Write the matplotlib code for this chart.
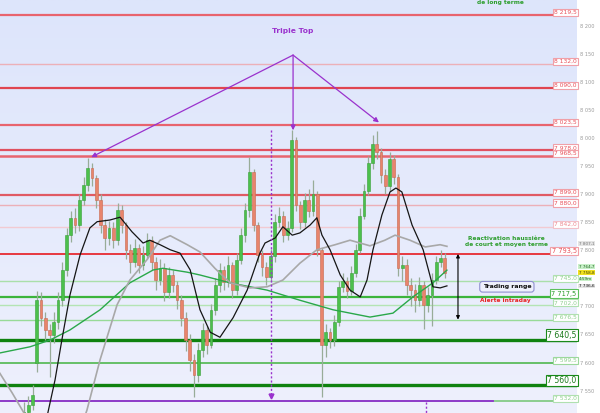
import matplotlib
matplotlib.use("Agg")
import matplotlib.pyplot as plt
import numpy as np

# daily candles (index 0 = first visible candle)
opens = [7505, 7512, 7524, 7600, 7712, 7680, 7658, 7649, 7672, 7712,
         7765, 7827, 7858, 7845, 7890, 7916, 7947, 7929, 7890, 7845,
         7822, 7840, 7818, 7872, 7845, 7801, 7779, 7804, 7774, 7792,
         7818, 7779, 7747, 7769, 7726, 7756, 7738, 7711, 7680, 7640,
         7605, 7578, 7622, 7658, 7631, 7694, 7738, 7765, 7743, 7774,
         7729, 7783, 7827, 7872, 7940, 7845, 7792, 7770, 7752, 7790,
         7850, 7862, 7828, 7840, 7997, 7880, 7850, 7890, 7870, 7900,
         7800, 7631, 7655, 7640, 7672, 7735, 7745, 7728, 7760, 7800,
         7862, 7905, 7955, 7990, 7975, 7935, 7915, 7962, 7930, 7768,
         7774, 7738, 7729, 7711, 7738, 7703, 7720, 7747, 7779, 7786]
closes = [7512, 7524, 7542, 7712, 7680, 7658, 7649, 7672, 7712, 7765,
          7827, 7858, 7845, 7890, 7916, 7947, 7929, 7890, 7845, 7822,
          7840, 7818, 7872, 7845, 7801, 7779, 7804, 7774, 7792, 7818,
          7779, 7747, 7769, 7726, 7756, 7738, 7711, 7680, 7640, 7605,
          7578, 7622, 7658, 7631, 7694, 7738, 7765, 7743, 7774, 7729,
          7783, 7827, 7872, 7940, 7845, 7792, 7770, 7752, 7790, 7850,
          7862, 7828, 7840, 7997, 7880, 7850, 7890, 7870, 7900, 7800,
          7631, 7655, 7640, 7672, 7735, 7745, 7728, 7760, 7800, 7862,
          7905, 7955, 7990, 7975, 7935, 7915, 7962, 7930, 7768, 7774,
          7738, 7729, 7711, 7738, 7703, 7720, 7747, 7779, 7786, 7759]
highs = [7530, 7540, 7560, 7728, 7725, 7690, 7668, 7690, 7725, 7780,
         7840, 7870, 7875, 7900, 7930, 7965, 7955, 7935, 7900, 7855,
         7852, 7850, 7885, 7880, 7850, 7812, 7820, 7812, 7808, 7830,
         7826, 7788, 7785, 7778, 7770, 7765, 7745, 7720, 7690, 7650,
         7615, 7635, 7670, 7665, 7705, 7750, 7778, 7772, 7790, 7780,
         7795, 7840, 7885, 7966, 7945, 7850, 7800, 7780, 7802, 7865,
         7878, 7870, 7852, 8015, 8002, 7888, 7902, 7910, 7925, 7905,
         7805, 7668, 7662, 7685, 7745, 7760, 7752, 7772, 7812, 7875,
         7918, 7968, 8005, 8012, 7982, 7945, 7975, 7970, 7936, 7790,
         7785, 7750, 7740, 7752, 7745, 7735, 7760, 7790, 7800, 7795]
lows = [7495, 7500, 7515, 7583, 7665, 7640, 7575, 7635, 7660, 7700,
        7755, 7815, 7830, 7835, 7880, 7905, 7915, 7875, 7830, 7800,
        7810, 7805, 7810, 7830, 7785, 7760, 7770, 7760, 7765, 7785,
        7765, 7730, 7738, 7710, 7715, 7725, 7695, 7665, 7620, 7585,
        7539, 7565, 7610, 7615, 7625, 7685, 7725, 7730, 7735, 7715,
        7720, 7775, 7815, 7860, 7835, 7780, 7755, 7738, 7745, 7780,
        7842, 7815, 7818, 7832, 7870, 7838, 7842, 7860, 7862, 7790,
        7539, 7610, 7625, 7630, 7665, 7725, 7715, 7720, 7752, 7795,
        7855, 7898, 7945, 7962, 7920, 7900, 7905, 7918, 7755, 7745,
        7720, 7700, 7690, 7700, 7660, 7690, 7665, 7740, 7770, 7750]

# moving averages (x in candle index units)
ma_short_x = [1.0, 5.6, 7.3, 8.9, 10.8, 13.2, 15.5, 17.2, 20.2, 22.6, 25.4, 28.0, 29.6,
              32.0, 34.4, 36.7, 39.1, 41.4, 43.8, 46.1, 49.2, 52.5, 55.5, 56.7, 59.1,
              60.9, 63.1, 64.9, 67.3, 68.9, 70.1, 72.0, 74.4, 76.7, 79.1, 80.7, 82.1,
              84.2, 86.1, 87.5, 88.9, 91.3, 93.9, 96.2, 97.9, 99.5]
ma_short = [7395, 7510, 7569, 7640, 7720, 7792, 7840, 7851, 7854, 7859, 7833, 7813, 7818,
            7810, 7801, 7795, 7765, 7694, 7654, 7645, 7680, 7729, 7795, 7813, 7822,
            7842, 7827, 7831, 7845, 7858, 7827, 7801, 7756, 7729, 7717, 7747, 7801,
            7863, 7904, 7911, 7904, 7845, 7801, 7735, 7733, 7736.6]
ma_mid_x = [-5.7, -2.8, 0.0, 3.8, 7.3, 10.8, 13.2, 14.8, 17.9, 21.9, 24.9, 28.9, 32.0,
            34.4, 38.4, 41.4, 44.9, 48.5, 53.2, 57.2, 60.9, 64.9, 68.9, 73.2, 76.7,
            81.4, 84.9, 87.3, 90.8, 94.4, 97.9, 99.5]
ma_mid = [7581, 7546, 7510, 7426, 7391, 7426, 7480, 7515, 7605, 7703, 7747, 7783, 7818,
          7826, 7810, 7797, 7768, 7742, 7733, 7735, 7747, 7777, 7801, 7810, 7818,
          7808, 7818, 7827, 7818, 7806, 7810, 7807.1]
ma_long_x = [-5.7, 1.4, 6.1, 10.8, 17.9, 24.9, 30.4, 32.7, 38.4, 41.4, 48.5, 57.2,
             64.9, 72.7, 81.4, 86.8, 91.5, 96.2, 99.5]
ma_long = [7617, 7628, 7640, 7658, 7694, 7742, 7765, 7768, 7761, 7756, 7742, 7729,
           7711, 7694, 7681, 7688, 7717, 7742, 7764.7]

# horizontal levels
resistances = [8219.5, 8132.0, 8090.0, 8023.5, 7978.0, 7968.5, 7899.0, 7880.0, 7842.0, 7793.5]
supports = [7745.0, 7717.5, 7702.0, 7676.5, 7640.5, 7599.5, 7560.0, 7532.0]

# right axis ticks (7 750 is hidden behind the price tags)
yticks = [7550, 7600, 7650, 7700, 7800, 7850, 7900, 7950, 8000, 8050, 8100, 8150, 8200]

# style per level: (line colour, line width, text colour, box edge, font size)
level_style = {
    8219.5: ('#e8646e', 1.6, '#e8505a', '#f0a0a8', 4.3),
    8132.0: ('#ecb0b8', 1.0, '#e8505a', '#f0a0a8', 4.3),
    8090.0: ('#e04550', 1.6, '#e8505a', '#f0a0a8', 4.3),
    8023.5: ('#e8646e', 1.6, '#e8505a', '#f0a0a8', 4.3),
    7978.0: ('#e05060', 1.6, '#e8505a', '#f0a0a8', 4.3),
    7968.5: ('#e8646e', 1.8, '#e8505a', '#f0a0a8', 4.3),
    7899.0: ('#e05a64', 1.6, '#e8505a', '#f0a0a8', 4.3),
    7880.0: ('#ecb0b8', 1.0, '#e8505a', '#f0a0a8', 4.3),
    7842.0: ('#f2cad2', 1.0, '#ec8890', '#f2c0c8', 4.3),
    7793.5: ('#e82a32', 1.3, '#e8505a', '#f0a0a8', 4.8),
    7745.0: ('#aadfaa', 1.0, '#90d090', '#b0e0b0', 4.3),
    7717.5: ('#3cb43c', 1.6, '#2e9e2e', '#5cc05c', 4.8),
    7702.0: ('#b4e4b4', 1.0, '#90d090', '#b0e0b0', 4.3),
    7676.5: ('#98da98', 1.0, '#90d090', '#b0e0b0', 4.3),
    7640.5: ('#0f820f', 2.4, '#1a7a1a', '#1a8a1a', 5.6),
    7599.5: ('#5cbc5c', 1.3, '#90d090', '#9cd89c', 4.3),
    7560.0: ('#0f820f', 2.4, '#1a7a1a', '#1a8a1a', 5.6),
    7532.0: ('#7cc87c', 1.2, '#90d090', '#b0e0b0', 4.3),
}

# price tags in the right margin: (value shown, where it sits, face colour, text colour)
tags = [('7 807,1', 7812, '#e4e4e4', '#777777'),
        ('7 764,7', 7771, '#c8f0c8', '#226622'),
        ('7 758,8', 7760, '#f0e020', '#444400'),
        ('4:59m', 7749, '#c8f0c8', '#226622'),
        ('7 736,6', 7736.6, '#e4e4e4', '#111111')]


def fr(v):
    return f"{v:,.1f}".replace(",", " ").replace(".", ",")


fig = plt.figure(figsize=(6, 4.13), dpi=100)
ax = fig.add_axes([0, 0, 577 / 600, 1])
xmin, xmax = -5.65, 130.1
ymin, ymax = 7510.0, 8246.2

# background gradient
grad = np.linspace(0, 1, 256).reshape(-1, 1)
cmap = matplotlib.colors.LinearSegmentedColormap.from_list('bg', ['#eef0fd', '#dde5fb'])
ax.imshow(grad, extent=[xmin, xmax, ymax, ymin], aspect='auto', cmap=cmap, zorder=0)

# levels
for lv in resistances + supports:
    col, lw, tcol, ecol, fs = level_style[lv]
    ax.axhline(lv, color=col, lw=lw, zorder=2)
    ax.text(0.9995, lv, fr(lv), transform=ax.get_yaxis_transform(), ha='right', va='bottom',
            fontsize=fs, color=tcol, zorder=6,
            bbox=dict(boxstyle='square,pad=0.18', fc='white', ec=ecol, lw=0.8))
# purple segment over the lowest support
ax.axhline(7532.0, xmin=0, xmax=493 / 577, color='#9030d0', lw=1.3, zorder=3)

# candles
x = np.arange(len(closes))
o = np.array(opens, float)
c = np.array(closes, float)
up = c >= o
ax.vlines(x, lows, highs, color='#98ac98', lw=0.9, zorder=3)
ax.bar(x[up], (c - o)[up], bottom=o[up], width=0.62, color='#4cc04c', edgecolor='#3aa03a', lw=0.4, zorder=4)
ax.bar(x[~up], (c - o)[~up], bottom=o[~up], width=0.62, color='#e8846c', edgecolor='#c86a50', lw=0.4, zorder=4)

# moving averages
ax.plot(ma_long_x, ma_long, color='#2aa84a', lw=1.0, zorder=5)
ax.plot(ma_mid_x, ma_mid, color='#a8a8a8', lw=1.2, zorder=5)
ax.plot(ma_short_x, ma_short, color='#151515', lw=0.9, zorder=5)

# triple top annotation
purple = '#9a32cd'
ax.text(63.3, 8191, 'Triple Top', color=purple, fontsize=5.4, fontweight='bold', ha='center', va='center')
for tx, ty in [(15.8, 7966), (63.3, 8014), (83.5, 8028)]:
    ax.annotate('', xy=(tx, ty), xytext=(63.3, 8148),
                arrowprops=dict(arrowstyle='-|>', color=purple, lw=0.9, mutation_scale=7,
                                shrinkA=0, shrinkB=0))

# dotted verticals
ax.plot([58.1, 58.1], [8014, 7542], ls=(0, (1.5, 1.5)), color=purple, lw=1.0, zorder=6)
ax.plot([58.1], [7540], marker='v', color=purple, ms=3.5, zorder=6)
ax.plot([94.6, 94.6], [7529, 7500], ls=(0, (1.5, 1.5)), color=purple, lw=1.0, zorder=6)

# trading range arrow and comments
ax.annotate('', xy=(102.1, 7793.5), xytext=(102.1, 7676.5),
            arrowprops=dict(arrowstyle='<|-|>', color='black', lw=0.8, mutation_scale=5,
                            shrinkA=0, shrinkB=0), zorder=7)
ax.text(112.0, 8242, 'de long terme', color='#2e9e2e', fontsize=4.2, fontweight='bold',
        ha='center', va='center')
ax.text(113.6, 7815, 'Reactivation haussière\nde court et moyen terme', color='#2e9e2e',
        fontsize=4.2, fontweight='bold', ha='center', va='center', linespacing=1.3)
ax.text(113.6, 7735, 'Trading range', color='#111111', fontsize=4.5, fontweight='bold',
        ha='center', va='center',
        bbox=dict(boxstyle='round,pad=0.45', fc='#eef0fb', ec='#9090d0', lw=0.8))
ax.text(113.2, 7710, 'Alerte intraday', color='#e82020', fontsize=4.2, fontweight='bold',
        ha='center', va='center')

# axis setup
ax.set_xlim(xmin, xmax)
ax.set_ylim(ymin, ymax)
ax.yaxis.tick_right()
ax.set_yticks(yticks)
ax.set_yticklabels([f"{t:,}".replace(",", " ") for t in yticks])
ax.tick_params(axis='y', length=0, pad=2.5, labelsize=3.6, labelcolor='#9a9a9a')
ax.set_xticks([])
for s in ax.spines.values():
    s.set_visible(False)

# margin price tags
for txt, yv, fc, tc in tags:
    ax.text(1.003, yv, txt, transform=ax.get_yaxis_transform(), ha='left', va='center',
            fontsize=3.0, color=tc, clip_on=False, zorder=8,
            bbox=dict(boxstyle='square,pad=0.08', fc=fc, ec='none'))

fig.savefig('out.png', dpi=100)
